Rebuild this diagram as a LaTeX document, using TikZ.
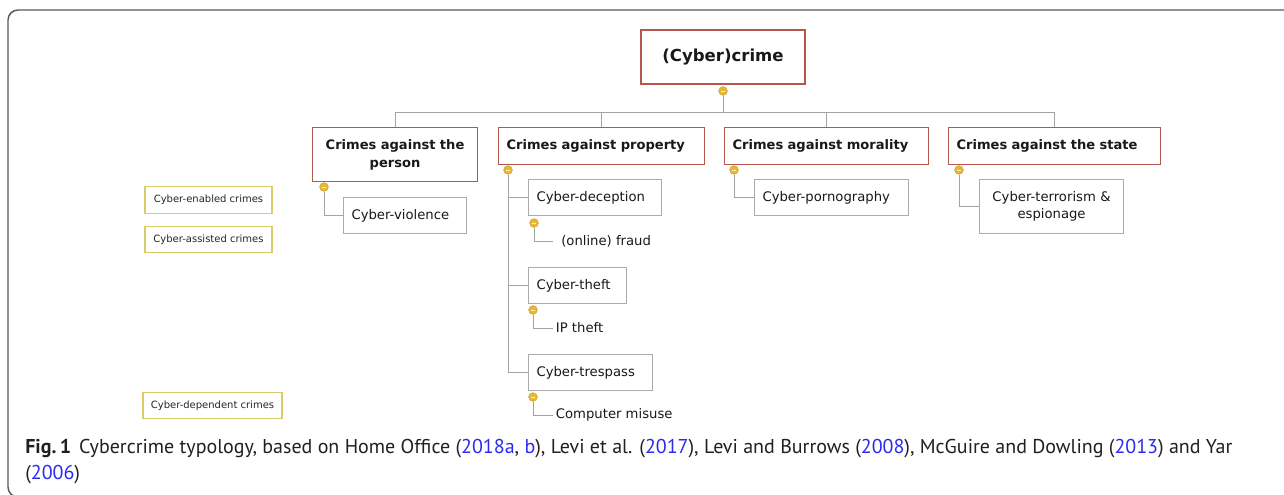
\documentclass[tikz,border=0pt]{standalone}
\usepackage{fontspec}
\setmainfont{PT Sans}
\newfontfamily\boxfont{DejaVu Sans}
\usetikzlibrary{positioning}

\definecolor{catred}{HTML}{B5574F}
\definecolor{leafgray}{HTML}{ABABAB}
\definecolor{linkgray}{HTML}{A3A3A3}
\definecolor{legendgold}{HTML}{D9CB6A}
\definecolor{togglefill}{HTML}{E5B935}
\definecolor{toggledraw}{HTML}{CFA12A}
\definecolor{linkblue}{HTML}{2B2BF0}
\definecolor{captext}{HTML}{231F20}
\definecolor{framegray}{HTML}{5A5A5A}

\newcommand{\yr}[1]{\textcolor{linkblue}{#1}}

\begin{document}
\begin{tikzpicture}[
    x=0.75pt, y=-0.75pt,
    root/.style={
        draw=catred,
        line width=0.8pt,
        minimum width=123pt,
        minimum height=40.5pt,
        text=black!90,
        font={\boxfont\bfseries\fontsize{12.4}{14}\selectfont},
    },
    category/.style={
        draw=catred,
        line width=0.8pt,
        inner xsep=6pt,
        inner ysep=0pt,
        minimum height=27.75pt,
        anchor=north west,
        align=left,
        text=black!90,
        font={\boxfont\bfseries\fontsize{9.8}{13.5}\selectfont},
    },
    leaf/.style={
        draw=leafgray,
        line width=0.8pt,
        inner xsep=6pt,
        inner ysep=0pt,
        minimum height=27pt,
        anchor=north west,
        align=left,
        text=black!90,
        font={\boxfont\fontsize{9.9}{12.75}\selectfont},
    },
    item/.style={
        inner xsep=2pt,
        anchor=west,
        text=black!90,
        font={\boxfont\fontsize{9.9}{12}\selectfont},
    },
    legend/.style={
        draw=legendgold,
        line width=0.8pt,
        minimum width=95.25pt,
        minimum height=20pt,
        text=black!85,
        font={\boxfont\fontsize{7.5}{9}\selectfont},
    },
    toggle/.style={
        circle,
        fill=togglefill,
        draw=toggledraw,
        line width=0.4pt,
        minimum size=6.5pt,
        inner sep=0pt,
        path picture={
            \draw[white!75!togglefill, line width=0.6pt]
                ([xshift=-1.6pt]path picture bounding box.center) --
                ([xshift=1.6pt]path picture bounding box.center);
        },
    },
    link/.style={
        draw=linkgray,
        line width=0.75pt,
    },
    frame/.style={
        draw=framegray,
        line width=1.1pt,
        rounded corners=7.5pt,
    },
    caption/.style={
        anchor=base west,
        inner sep=0pt,
        text=captext,
        font=\fontsize{15}{18}\selectfont,
    },
]

    \useasboundingbox (0,0) rectangle (1284,494);
    \fill[white] (0,0) rectangle (1284,494);
    \clip (0,0) rectangle (1284,494);
    \draw[frame] (1300,10) -- (8,10) -- (8,497) -- (40,497);

    % tree
    \node[root] (crime) at (723,57) {(Cyber)crime};
    \node[toggle] (crimeT) at (723,91) {};

    \node[category, align=center, text width=111.75pt, minimum height=40.5pt] (person) at (312,127) {Crimes against the\\person};
    \node[category, text width=142.5pt] (property) at (498,127) {Crimes against property};
    \node[category, text width=141pt] (morality) at (724,127) {Crimes against morality};
    \node[category, text width=147pt] (state) at (948,127) {Crimes against the state};

    \node[toggle] (personT) at (324,187) {};
    \node[toggle] (propertyT) at (508,170) {};
    \node[toggle] (moralityT) at (734,170) {};
    \node[toggle] (stateT) at (959,170) {};

    \node[leaf, text width=80.25pt] (violence) at (343,197) {Cyber-violence};
    \node[leaf, text width=88pt] (deception) at (528,179) {Cyber-deception};
    \node[leaf, text width=61.5pt] (theft) at (528,267) {Cyber-theft};
    \node[leaf, text width=81pt] (trespass) at (528,354) {Cyber-trespass};
    \node[leaf, text width=103.5pt] (pornography) at (754,179) {Cyber-pornography};
    \node[leaf, align=center, text width=96pt, minimum height=40.5pt] (terrorism) at (979,179) {Cyber-terrorism \&\\espionage};

    \node[toggle] (deceptionT) at (534,223) {};
    \node[toggle] (theftT) at (533,310) {};
    \node[toggle] (trespassT) at (533,397) {};

    \node[item, inner xsep=6pt] (fraud) at (553,241) {(online) fraud};
    \node[item] (ipTheft) at (553,328) {IP theft};
    \node[item] (misuse) at (553,415) {Computer misuse};

    \coordinate (bus) at (723,112);
    \draw[link] (crimeT) -- (bus);
    \foreach \c in {person, property, morality, state}
        \draw[link] (\c.north) |- (bus);

    \draw[link] (personT) |- (violence.west);
    \foreach \c in {deception, theft, trespass}
        \draw[link] (propertyT) |- (\c.west);
    \draw[link] (moralityT) |- (pornography.west);
    \draw[link] (stateT) |- (terrorism.west);
    \draw[link] (deceptionT) |- (fraud.west);
    \draw[link] (theftT) |- (ipTheft.west);
    \draw[link] (trespassT) |- (misuse.west);

    % legend
    \node[legend] (enabled) at (208.5,200) {Cyber-enabled crimes};
    \node[legend] (assisted) at (208.5,239.5) {Cyber-assisted crimes};
    \node[legend, minimum width=104.25pt] (dependent) at (212.5,405.5) {Cyber-dependent crimes};

    % caption
    \node[caption] (capTop) at (25,453) {\textbf{Fig.\,1}\hspace{6pt}Cybercrime typology, based on Home Office (\yr{2018a}, \yr{b}), Levi et al. (\yr{2017}), Levi and Burrows (\yr{2008}), McGuire and Dowling (\yr{2013}) and Yar};
    \node[caption] (capBottom) at (25,479) {(\yr{2006})};

\end{tikzpicture}
\end{document}
